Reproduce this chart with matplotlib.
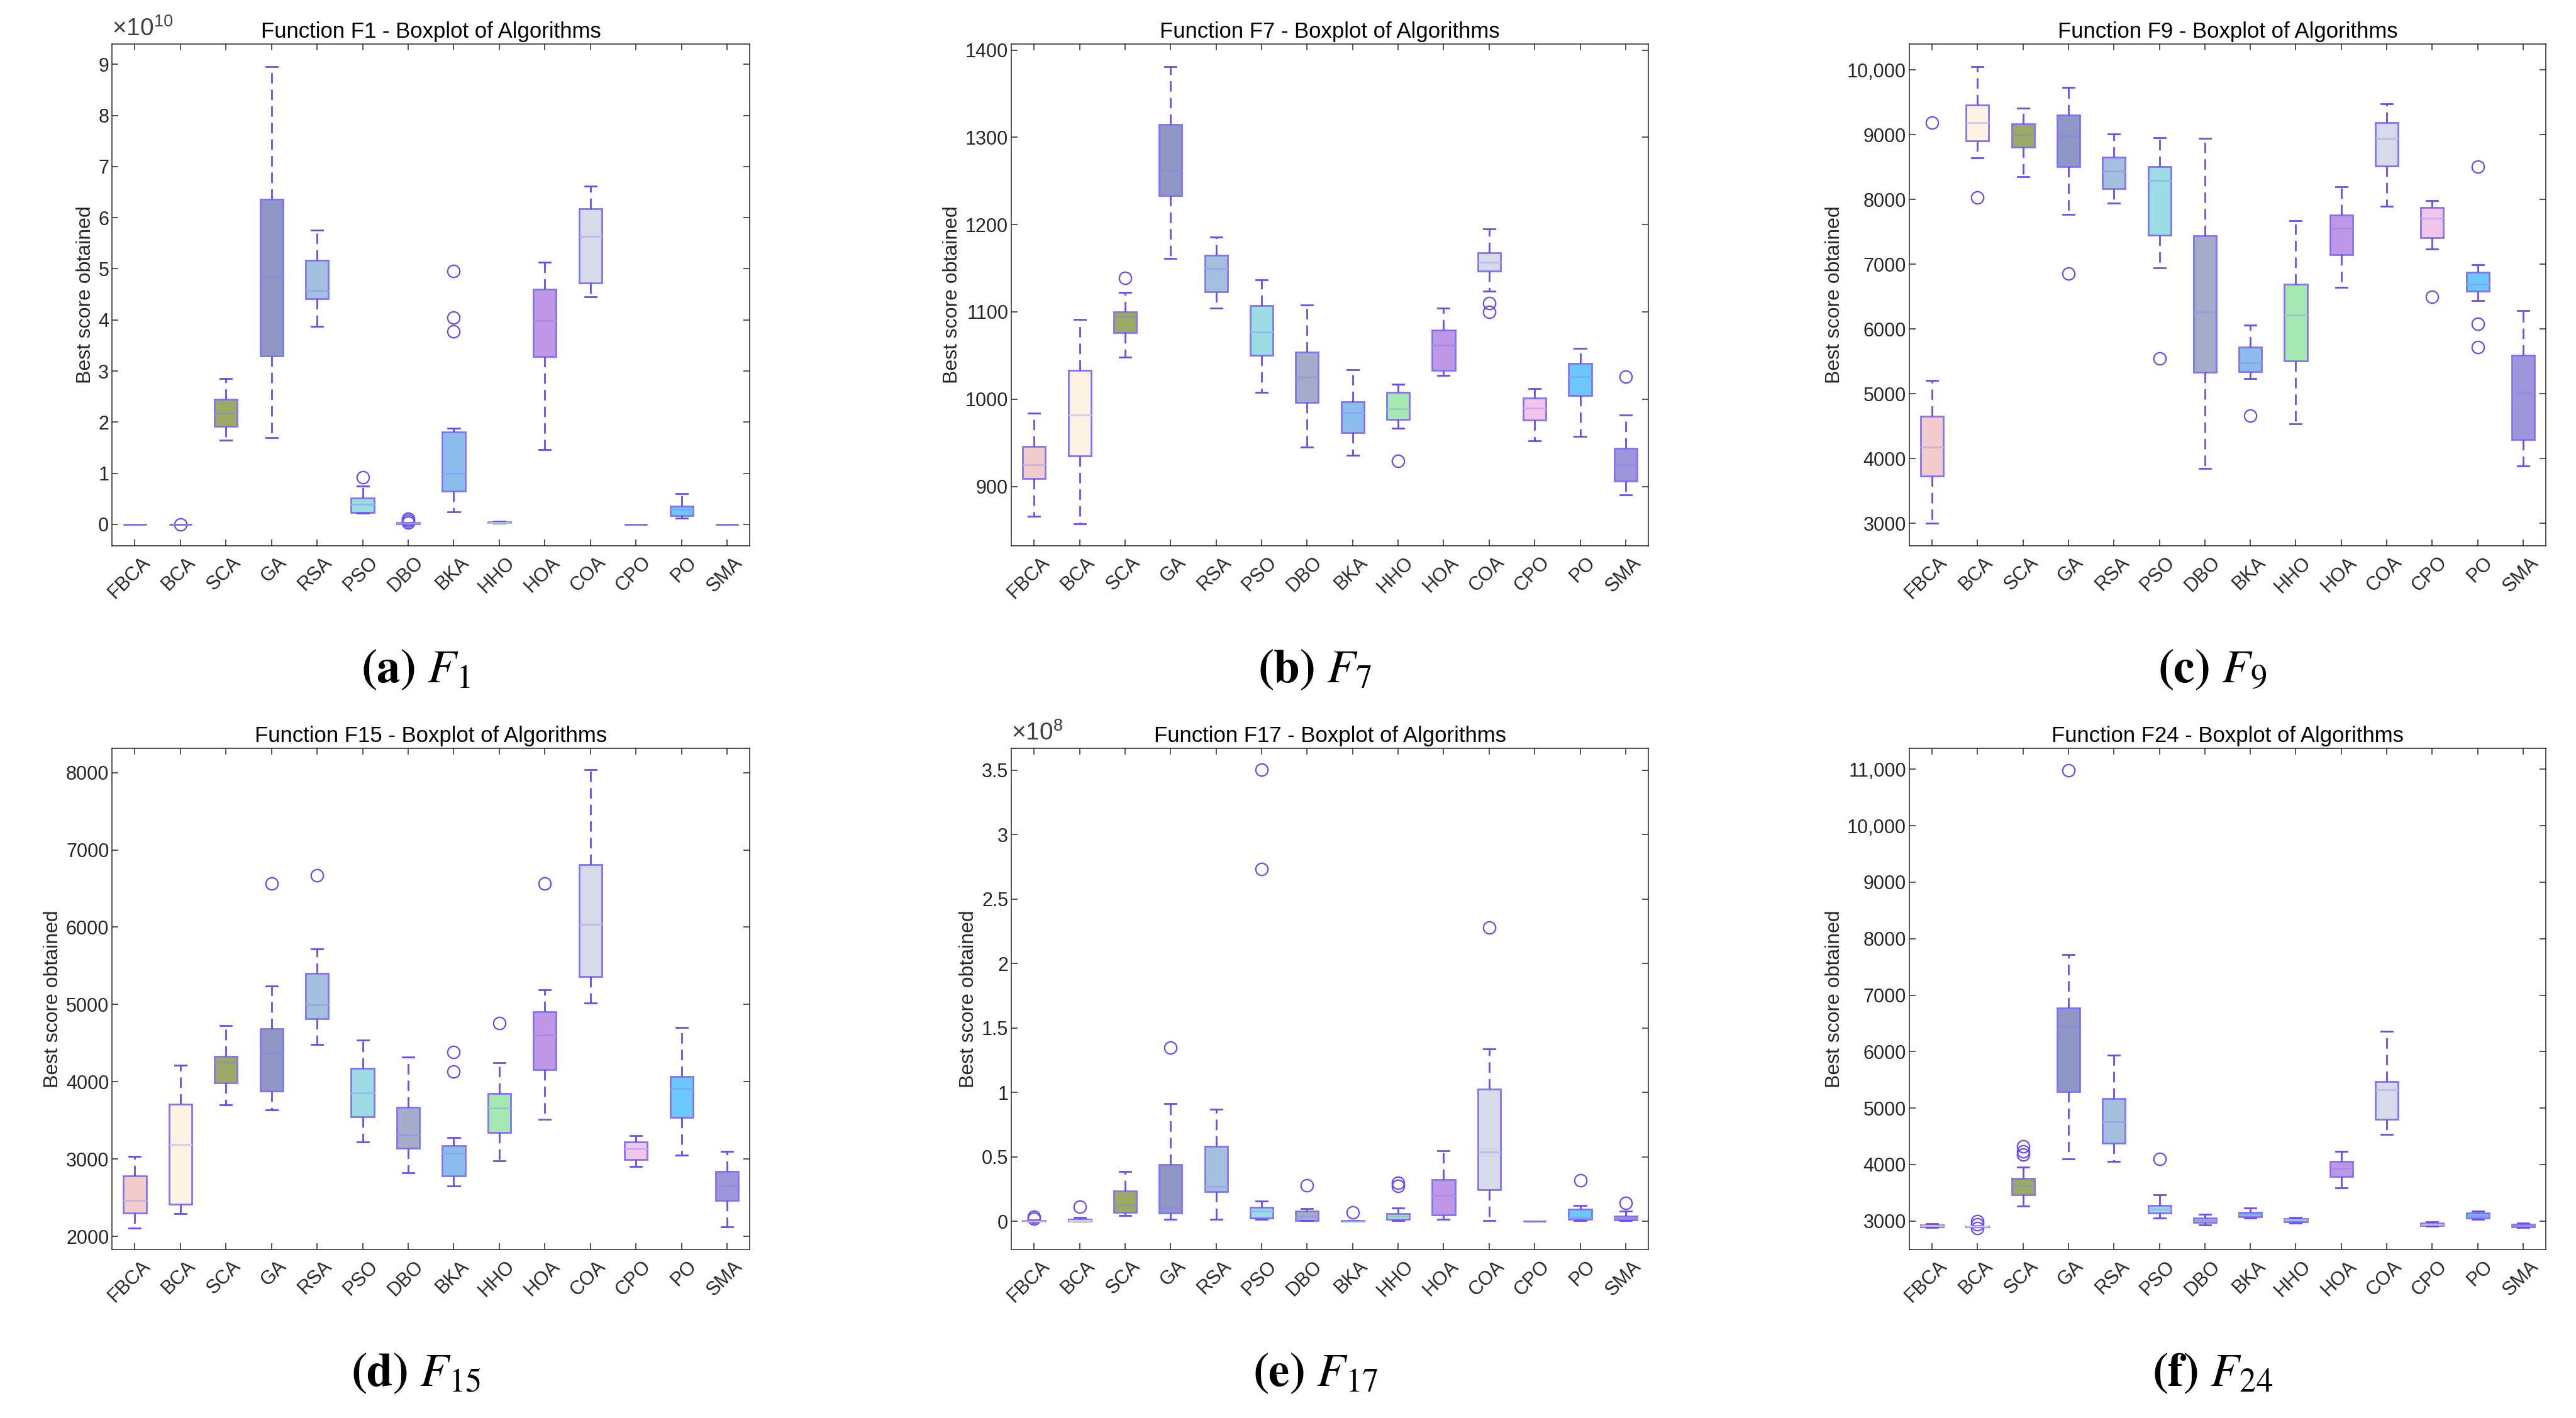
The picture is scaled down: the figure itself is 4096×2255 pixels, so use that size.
import matplotlib
matplotlib.use("Agg")
import matplotlib.pyplot as plt
import matplotlib.transforms as mtransforms
from matplotlib.ticker import FuncFormatter, MultipleLocator
import numpy as np

plt.rcParams['font.family'] = ['Liberation Sans', 'DejaVu Sans']
plt.rcParams['lines.scale_dashes'] = False
plt.rcParams['mathtext.fontset'] = 'custom'
plt.rcParams['mathtext.rm'] = 'Liberation Sans'
plt.rcParams['mathtext.it'] = 'Liberation Sans:italic'
plt.rcParams['mathtext.bf'] = 'Liberation Sans:bold'

algos = ["FBCA", "BCA", "SCA", "GA", "RSA", "PSO", "DBO",
         "BKA", "HHO", "HOA", "COA", "CPO", "PO", "SMA"]
box_colors = ["#F2CBCB", "#FCF3E4", "#9BAB66", "#8F97C4", "#A3C0DE", "#9CDDE3", "#A3ADCA",
              "#8BBDEC", "#A6E8B1", "#BE97E6", "#D7DAE8", "#F2C6EC", "#6BC8FC", "#9D95DA"]

# F1 (x 1e10)
f1_med = [0.0, 0.0, 2.18, 4.84, 4.57, 0.39, 0.02, 1.00, 0.04, 3.98, 5.63, 0.0, 0.29, 0.0]
f1_q1 = [0.0, 0.0, 1.92, 3.29, 4.41, 0.23, 0.01, 0.65, 0.03, 3.28, 4.72, 0.0, 0.17, 0.0]
f1_q3 = [0.0, 0.0, 2.45, 6.36, 5.16, 0.51, 0.03, 1.81, 0.05, 4.60, 6.18, 0.0, 0.35, 0.0]
f1_lo = [0.0, 0.0, 1.65, 1.69, 3.88, 0.22, 0.0, 0.24, 0.02, 1.46, 4.45, 0.0, 0.12, 0.0]
f1_hi = [0.0, 0.0, 2.85, 8.96, 5.76, 0.75, 0.04, 1.88, 0.06, 5.13, 6.62, 0.0, 0.60, 0.0]
f1_out = [[], [0.0], [], [], [], [0.92], [0.11, 0.07, 0.04], [4.96, 4.04, 3.77],
          [], [], [], [], [], []]

# F7
f7_med = [925, 982, 1094, 1262, 1150, 1077, 1025, 985, 989, 1062, 1157, 990, 1026, 925]
f7_q1 = [909, 935, 1076, 1233, 1123, 1050, 996, 962, 977, 1033, 1147, 976, 1004, 906]
f7_q3 = [946, 1033, 1100, 1315, 1165, 1107, 1054, 997, 1008, 1079, 1168, 1001, 1041, 944]
f7_lo = [866, 857, 1048, 1161, 1104, 1008, 945, 936, 967, 1027, 1124, 952, 957, 890]
f7_hi = [984, 1091, 1122, 1381, 1186, 1137, 1108, 1034, 1017, 1104, 1195, 1012, 1058, 982]
f7_out = [[], [], [1139], [], [], [], [], [], [929], [], [1110, 1100], [], [], [1026]]

# F9
f9_med = [4181, 9191, 9001, 8980, 8436, 8294, 6261, 5473, 6213, 7553, 8946, 7709, 6696, 5024]
f9_q1 = [3732, 8906, 8804, 8504, 8171, 7444, 5336, 5343, 5506, 7145, 8518, 7410, 6581, 4290]
f9_q3 = [4650, 9463, 9171, 9307, 8654, 8511, 7437, 5724, 6689, 7763, 9191, 7872, 6880, 5595]
f9_lo = [2998, 8640, 8348, 7770, 7940, 6948, 3848, 5235, 4534, 6642, 7893, 7233, 6438, 3888]
f9_hi = [5207, 10048, 9409, 9728, 9007, 8953, 8939, 6064, 7668, 8192, 9477, 7981, 6988, 6281]
f9_out = [[9191], [8035], [], [6859], [], [5547], [], [4663], [], [], [], [6499],
          [8504, 6084, 5717], []]

# F15
f15_med = [2467, 3192, 4252, 4370, 4995, 3857, 3309, 3074, 3663, 4606, 6038, 3133, 3916, 2655]
f15_q1 = [2302, 2414, 3987, 3881, 4818, 3545, 3138, 2779, 3345, 4158, 5360, 2997, 3539, 2461]
f15_q3 = [2779, 3710, 4329, 4682, 5401, 4176, 3669, 3174, 3846, 4906, 6810, 3221, 4070, 2838]
f15_lo = [2107, 2290, 3698, 3633, 4482, 3221, 2820, 2649, 2973, 3510, 5018, 2903, 3050, 2119]
f15_hi = [3038, 4211, 4724, 5236, 5720, 4535, 4317, 3280, 4246, 5189, 8035, 3303, 4700, 3103]
f15_out = [[], [], [], [6568], [6668], [], [], [4388, 4134], [4759], [6568], [], [], [], []]

# F17 (x 1e8)
f17_med = [0.003, 0.008, 0.127, 0.103, 0.269, 0.078, 0.039, 0.003, 0.039, 0.201, 0.537, 0.0, 0.028, 0.028]
f17_q1 = [0.0, 0.002, 0.067, 0.064, 0.230, 0.025, 0.007, 0.002, 0.018, 0.049, 0.244, 0.0, 0.014, 0.011]
f17_q3 = [0.007, 0.017, 0.233, 0.442, 0.580, 0.110, 0.078, 0.004, 0.060, 0.325, 1.025, 0.0, 0.092, 0.042]
f17_lo = [0.0, 0.0, 0.046, 0.014, 0.018, 0.018, 0.004, 0.001, 0.007, 0.014, 0.007, 0.0, 0.007, 0.007]
f17_hi = [0.010, 0.028, 0.385, 0.912, 0.870, 0.156, 0.099, 0.005, 0.103, 0.548, 1.340, 0.0, 0.124, 0.078]
f17_out = [[0.035, 0.02], [0.113], [], [1.350], [], [3.503, 2.736], [0.279], [0.067],
           [0.300, 0.276], [], [2.280], [], [0.318], [0.141]]

# F24
f24_med = [2912, 2903, 3628, 6445, 4755, 3209, 3008, 3121, 3016, 3934, 5326, 2936, 3097, 2912]
f24_q1 = [2895, 2895, 3467, 5286, 4376, 3137, 2968, 3072, 2984, 3789, 4803, 2912, 3048, 2895]
f24_q3 = [2928, 2910, 3757, 6767, 5173, 3274, 3056, 3153, 3040, 4054, 5471, 2960, 3145, 2936]
f24_lo = [2887, 2890, 3258, 4103, 4054, 3056, 2928, 3056, 2960, 3588, 4537, 2903, 3024, 2887]
f24_hi = [2952, 2915, 3950, 7716, 5938, 3467, 3113, 3225, 3064, 4232, 6364, 2984, 3177, 2960]
f24_out = [[], [2990, 2940, 2870], [4320, 4232, 4175], [10984], [], [4103], [], [], [],
           [], [], [], [], []]

EDGE = "#8273F7"
WHISK = "#6A4CF0"
AXC = "#262626"


def darker(c):
    r, g, b = matplotlib.colors.to_rgb(c)
    e = matplotlib.colors.to_rgb(EDGE)
    return tuple(0.7 * a + 0.3 * x for a, x in zip((r, g, b), e))


def fmt_tick(scale):
    def f(v, pos):
        x = v / scale
        if abs(x - round(x)) < 1e-6:
            x = int(round(x))
            return f"{x:,}" if abs(x) >= 10000 else str(x)
        return f"{x:g}"
    return FuncFormatter(f)


def panel(ax, fname, med, q1, q3, lo, hi, out, scale, ylim, step, expo):
    stats = []
    for i, name in enumerate(algos):
        stats.append(dict(med=med[i] * scale, q1=q1[i] * scale, q3=q3[i] * scale,
                          whislo=lo[i] * scale, whishi=hi[i] * scale,
                          fliers=np.array(out[i], dtype=float) * scale, label=name))
    bp = ax.bxp(stats, positions=range(1, len(algos) + 1), widths=0.5, patch_artist=True,
                capwidths=0.25,
                boxprops=dict(edgecolor=EDGE, linewidth=2.0),
                whiskerprops=dict(color=WHISK, linewidth=2.0, linestyle=(0, (12, 7))),
                capprops=dict(color=WHISK, linewidth=2.0),
                medianprops=dict(linewidth=2.2),
                flierprops=dict(marker='o', markerfacecolor='none', markeredgecolor=WHISK,
                                markersize=14, markeredgewidth=1.6))
    for patch, c in zip(bp['boxes'], box_colors):
        patch.set_facecolor(c)
    for i, (m, c) in enumerate(zip(bp['medians'], box_colors)):
        # flat boxes read as a plain violet line
        m.set_color(EDGE if q3[i] - q1[i] < 1e-9 else darker(c))

    ax.set_xlim(0.5, len(algos) + 0.5)
    ax.set_ylim(ylim[0] * scale, ylim[1] * scale)
    ax.yaxis.set_major_locator(MultipleLocator(step * scale))
    ax.yaxis.set_major_formatter(fmt_tick(scale))
    ax.set_title(f"Function {fname} - Boxplot of Algorithms", fontsize=25, pad=7)
    ax.set_ylabel("Best score obtained", fontsize=23, color=AXC)
    ax.tick_params(direction='in', top=True, right=True, length=7, width=1.1,
                   colors=AXC, labelsize=22)
    ax.tick_params(axis='x', labelsize=22, pad=16)
    for s in ax.spines.values():
        s.set_color(AXC)
        s.set_linewidth(1.1)
    offset = mtransforms.ScaledTranslation(14 / 72, 0, ax.figure.dpi_scale_trans)
    for lab in ax.get_xticklabels():
        lab.set_rotation(45)
        lab.set_ha('right')
        lab.set_va('center')
        lab.set_rotation_mode('anchor')
        lab.set_transform(lab.get_transform() + offset)
    if expo:
        ax.text(0.0, 1.006, r"$\times10^{%d}$" % expo, transform=ax.transAxes,
                ha='left', va='bottom', fontsize=28, color="#404040")


fig = plt.figure(figsize=(40.96, 22.55), dpi=100)
lefts = [0.0435, 0.3926, 0.7412]
widths = [0.2476, 0.2473, 0.2471]
rows = [(0.6151, 0.3539), (0.1188, 0.3537)]

panels = [
    ("F1", f1_med, f1_q1, f1_q3, f1_lo, f1_hi, f1_out, 1e10, (-0.42, 9.40), 1, 10),
    ("F7", f7_med, f7_q1, f7_q3, f7_lo, f7_hi, f7_out, 1, (832, 1407), 100, 0),
    ("F9", f9_med, f9_q1, f9_q3, f9_lo, f9_hi, f9_out, 1, (2653, 10401), 1000, 0),
    ("F15", f15_med, f15_q1, f15_q3, f15_lo, f15_hi, f15_out, 1, (1829, 8318), 1000, 0),
    ("F17", f17_med, f17_q1, f17_q3, f17_lo, f17_hi, f17_out, 1e8, (-0.219, 3.673), 0.5, 8),
    ("F24", f24_med, f24_q1, f24_q3, f24_lo, f24_hi, f24_out, 1, (2493, 11378), 1000, 0),
]
captions = [r"$\mathbf{(a)}\ F_{1}$", r"$\mathbf{(b)}\ F_{7}$", r"$\mathbf{(c)}\ F_{9}$",
            r"$\mathbf{(d)}\ F_{15}$", r"$\mathbf{(e)}\ F_{17}$", r"$\mathbf{(f)}\ F_{24}$"]
cap_x = [661 / 4096, 2091 / 4096, 3518 / 4096]
cap_y = [0.5277, 0.0315]

for k, p in enumerate(panels):
    r, c = divmod(k, 3)
    ax = fig.add_axes([lefts[c], rows[r][0], widths[c], rows[r][1]])
    panel(ax, *p)
    fig.text(cap_x[c], cap_y[r], captions[k], ha='center', va='center', fontsize=54,
             math_fontfamily='stix')

fig.savefig("out.png", dpi=100)
